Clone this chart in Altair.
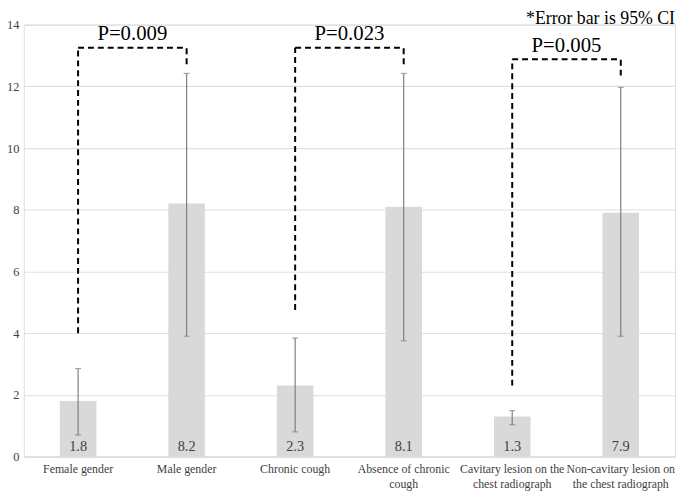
import altair as alt
import pandas as pd

categories = ["Female gender", "Male gender", "Chronic cough",
              "Absence of chronic cough", "Cavitary lesion on the chest radiograph",
              "Non-cavitary lesion on the chest radiograph"]
label_lines = [["Female gender"], ["Male gender"], ["Chronic cough"],
               ["Absence of chronic", "cough"], ["Cavitary lesion on the", "chest radiograph"],
               ["Non-cavitary lesion on", "the chest radiograph"]]
values = [1.8, 8.2, 2.3, 8.1, 1.3, 7.9]
ci_low = [0.7, 3.9, 0.8, 3.75, 1.03, 3.9]
ci_high = [2.85, 12.42, 3.84, 12.42, 1.49, 11.97]

# brackets: left category, right category, left leg bottom, top, right leg bottom, p-label, label y
br_left = ["Female gender", "Chronic cough", "Cavitary lesion on the chest radiograph"]
br_right = ["Male gender", "Absence of chronic cough", "Non-cavitary lesion on the chest radiograph"]
br_left_bottom = [4.0, 4.75, 2.3]
br_top = [13.25, 13.25, 12.88]
br_right_bottom = [12.72, 12.72, 12.35]
p_labels = ["P=0.009", "P=0.023", "P=0.005"]
p_label_y = [13.7, 13.7, 13.32]

df = pd.DataFrame({"cat": categories, "value": values, "lo": ci_low, "hi": ci_high,
                   "label": [f"{v:.1f}" for v in values]})
br = pd.DataFrame({"left": br_left, "right": br_right, "lb": br_left_bottom, "top": br_top,
                   "rb": br_right_bottom, "p": p_labels, "py": p_label_y})

label_map = {c: l for c, l in zip(categories, label_lines)}
label_expr = "{" + ",".join(
    f"{c!r}: [" + ",".join(repr(s) for s in l) + "]" for c, l in label_map.items()
) + "}[datum.value]"

serif = "Liberation Serif"

x = alt.X("cat:N", sort=categories, title=None,
          scale=alt.Scale(domain=categories, paddingInner=0, paddingOuter=0),
          axis=alt.Axis(labelAngle=0, labelFont=serif, labelFontSize=12, labelColor="#404040",
                        labelExpr=label_expr, labelLineHeight=15, domain=True,
                        domainColor="#d9d9d9", ticks=False, labelPadding=7, labelLimit=200))
y = alt.Y("value:Q", title=None,
          scale=alt.Scale(domain=[0, 14], nice=False),
          axis=alt.Axis(values=list(range(0, 15, 2)), labelFont=serif, labelFontSize=12.5,
                        labelColor="#404040", domain=False, ticks=False, labelPadding=5,
                        gridColor="#e0e0e0", gridWidth=1.2))

base = alt.Chart(df)
bars = base.mark_bar(size=37, color="#d9d9d9").encode(x=x, y=y)
err = base.mark_rule(color="#7f7f7f", strokeWidth=1.2).encode(
    x=alt.X("cat:N", sort=categories, bandPosition=0.5), y="lo:Q", y2="hi:Q")
caps_lo = base.mark_tick(color="#7f7f7f", size=6, thickness=1.2, orient="horizontal").encode(
    x=alt.X("cat:N", sort=categories, bandPosition=0.5), y="lo:Q")
caps_hi = base.mark_tick(color="#7f7f7f", size=6, thickness=1.2, orient="horizontal").encode(
    x=alt.X("cat:N", sort=categories, bandPosition=0.5), y="hi:Q")
vals = base.mark_text(font=serif, fontSize=14.5, color="#404040", baseline="bottom", dy=-3).encode(
    x=alt.X("cat:N", sort=categories, bandPosition=0.5), y=alt.datum(0), text="label:N")

bb = alt.Chart(br)
dash = dict(color="black", strokeWidth=2, strokeDash=[6, 4])
leg_l = bb.mark_rule(**dash).encode(
    x=alt.X("left:N", sort=categories, bandPosition=0.5), y="lb:Q", y2="top:Q")
leg_r = bb.mark_rule(**dash).encode(
    x=alt.X("right:N", sort=categories, bandPosition=0.5), y="rb:Q", y2="top:Q")
horiz = bb.mark_rule(**dash).encode(
    x=alt.X("left:N", sort=categories, bandPosition=0.5),
    x2=alt.X2("right:N", bandPosition=0.5), y="top:Q")
ptext = bb.mark_text(font=serif, fontSize=21, color="black", baseline="middle").encode(
    x=alt.X("left:N", sort=categories, bandPosition=1), y="py:Q", text="p:N")

note = alt.Chart(pd.DataFrame({"t": ["*Error bar is 95% CI"]})).mark_text(
    font=serif, fontSize=18, color="black", align="right", baseline="alphabetic").encode(
    x=alt.value(659), y=alt.value(-1), text="t:N")

chart = alt.layer(bars, err, caps_lo, caps_hi, vals, leg_l, leg_r, horiz, ptext, note).properties(
    width=659, height=437,
    autosize=alt.AutoSizeParams(type="none"),
    padding={"left": 16, "top": 14, "right": 2, "bottom": 34},
).configure_view(stroke=None).configure(background="white", font=serif)

chart.save("out.html", embed_options={"renderer": "svg", "actions": False})
